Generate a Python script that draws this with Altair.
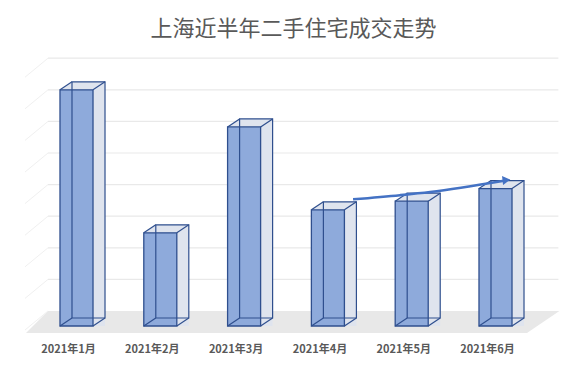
import pandas as pd
import altair as alt

# ---- data ----
months = ["2021年1月", "2021年2月", "2021年3月", "2021年4月", "2021年5月", "2021年6月"]
volumes = [29900, 11800, 25200, 14700, 15800, 17400]
grid_values = [4000, 8000, 12000, 16000, 20000, 24000, 28000, 32000]
wall_values = [0, 4000, 8000, 12000, 16000, 20000, 24000, 28000, 32000]
arrow_x = [3.30, 3.86, 4.22, 5.10]
arrow_y = [16040, 16560, 16960, 18380]
arrow_head_x = [5.13]
arrow_head_y = [18480]
title_text = "上海近半年二手住宅成交走势"

# ---- layout / style ----
W, H = 502.8, 252.8
X_DOMAIN = [-0.5, 5.5]
Y_DOMAIN = [0, 32000]
HALF = 0.197
BDX, BDY = 12, -8          # bar depth offset (px)
WALL_DY = -15              # back wall offset (px)
WALL_L, WALL_R = 13.4, 21  # wall left start (px from left), right overshoot (px)
FRONT = "#8eaadb"
SIDE = "#dfe4ee"
EDGE = "#2f4f8e"
FLOOR = "#e8e8e8"
GRID = "#e9e9e9"
ARROW = "#4472c4"
TEXT = "#595959"
FONT = "Noto Sans CJK SC"

sx = W / (X_DOMAIN[1] - X_DOMAIN[0])
sy = H / (Y_DOMAIN[1] - Y_DOMAIN[0])


def px_x(px):
    return X_DOMAIN[0] + px / sx


def px_y(py):
    return py / sy


xs = alt.Scale(domain=X_DOMAIN, nice=False, zero=False)
ys = alt.Scale(domain=Y_DOMAIN, nice=False, zero=False)

bars = pd.DataFrame({
    "month": months,
    "idx": list(range(len(months))),
    "value": volumes,
})
bars["x1"] = bars["idx"] - HALF
bars["x2"] = bars["idx"] + HALF
bars["zero"] = 0

corners = []
for _, r in bars.iterrows():
    for cx, cy in (("x1", "value"), ("x2", "value"), ("x2", "zero"), ("x1", "zero")):
        corners.append({"cx": r[cx], "cy": r[cy]})
corners = pd.DataFrame(corners)

# floor parallelogram (as a vertical area)
floor_back = px_y(-WALL_DY)
floor_front = px_y(-7)
floor = pd.DataFrame({
    "x": [px_x(WALL_L - 22), px_x(WALL_L), px_x(W - 10.4), px_x(W + WALL_R + 1)],
    "top": [floor_front, floor_back, floor_back, floor_back],
    "bot": [floor_front, floor_front, floor_front, floor_back],
})

grid = pd.DataFrame({"v": grid_values, "a": X_DOMAIN[0], "b": X_DOMAIN[1]})
wall = pd.DataFrame({"v": wall_values, "a": X_DOMAIN[0]})

floor_layer = alt.Chart(floor).mark_area(color=FLOOR, orient="vertical").encode(
    x=alt.X("x:Q", scale=xs, axis=None),
    y=alt.Y("top:Q", scale=ys, axis=None),
    y2="bot:Q",
)

grid_layer = alt.Chart(grid).mark_rule(
    color=GRID, strokeWidth=1.2, xOffset=WALL_L, x2Offset=WALL_R,
    yOffset=WALL_DY, y2Offset=WALL_DY,
).encode(
    x=alt.X("a:Q", scale=xs, axis=None), x2="b:Q",
    y=alt.Y("v:Q", scale=ys, axis=None), y2="v:Q",
)

side_wall = alt.Chart(wall).mark_rule(
    color="#f0f0f0", strokeWidth=1, xOffset=WALL_L, x2Offset=WALL_L - 23,
    yOffset=WALL_DY, y2Offset=WALL_DY + 19,
).encode(
    x=alt.X("a:Q", scale=xs, axis=None), x2="a:Q",
    y=alt.Y("v:Q", scale=ys, axis=None), y2="v:Q",
)

base = alt.Chart(bars)

shadow_back = base.mark_rect(
    color=SIDE, xOffset=BDX, x2Offset=BDX, yOffset=BDY, y2Offset=BDY
).encode(
    x=alt.X("x1:Q", scale=xs, axis=None), x2="x2:Q",
    y=alt.Y("value:Q", scale=ys, axis=None), y2="zero:Q",
)

shadow_side = base.mark_rect(color=SIDE, x2Offset=BDX, yOffset=BDY).encode(
    x=alt.X("x2:Q", scale=xs, axis=None), x2="x2:Q",
    y=alt.Y("value:Q", scale=ys, axis=None), y2="zero:Q",
)

top_tri = base.mark_point(
    shape="M0,0L12,-8L12,0Z", size=4, filled=True, color=SIDE, opacity=1, strokeWidth=0
).encode(
    x=alt.X("x1:Q", scale=xs, axis=None),
    y=alt.Y("value:Q", scale=ys, axis=None),
)

front_fill = base.mark_rect(color=FRONT).encode(
    x=alt.X("x1:Q", scale=xs, axis=None), x2="x2:Q",
    y=alt.Y("value:Q", scale=ys, axis=None), y2="zero:Q",
)

back_edge = base.mark_rect(
    fill="white", fillOpacity=0, stroke=EDGE, strokeWidth=1.2,
    xOffset=BDX, x2Offset=BDX, yOffset=BDY, y2Offset=BDY,
).encode(
    x=alt.X("x1:Q", scale=xs, axis=None), x2="x2:Q",
    y=alt.Y("value:Q", scale=ys, axis=None), y2="zero:Q",
)

front_edge = base.mark_rect(
    fill="white", fillOpacity=0, stroke=EDGE, strokeWidth=1.3,
).encode(
    x=alt.X("x1:Q", scale=xs, axis=None), x2="x2:Q",
    y=alt.Y("value:Q", scale=ys, axis=None), y2="zero:Q",
)

diagonals = alt.Chart(corners).mark_rule(
    color=EDGE, strokeWidth=1.2, x2Offset=BDX, y2Offset=BDY
).encode(
    x=alt.X("cx:Q", scale=xs, axis=None), x2="cx:Q",
    y=alt.Y("cy:Q", scale=ys, axis=None), y2="cy:Q",
)

month_labels = base.mark_text(
    font=FONT, fontSize=11, fontWeight="bold", color=TEXT,
    align="center", baseline="middle", dx=-8, dy=24,
).encode(
    x=alt.X("idx:Q", scale=xs, axis=None),
    y=alt.Y("zero:Q", scale=ys, axis=None),
    text="month:N",
)

arrow_df = pd.DataFrame({"x": arrow_x, "y": arrow_y, "o": list(range(len(arrow_x)))})
arrow_line = alt.Chart(arrow_df).mark_line(
    color=ARROW, strokeWidth=2.6, interpolate="monotone"
).encode(
    x=alt.X("x:Q", scale=xs, axis=None),
    y=alt.Y("y:Q", scale=ys, axis=None),
    order="o:Q",
)

head_df = pd.DataFrame({"x": arrow_head_x, "y": arrow_head_y})
arrow_head = alt.Chart(head_df).mark_point(
    shape="triangle-right", size=80, filled=True, color=ARROW, opacity=1, angle=353
).encode(
    x=alt.X("x:Q", scale=xs, axis=None),
    y=alt.Y("y:Q", scale=ys, axis=None),
)

title_df = pd.DataFrame({"t": [title_text]})
title_layer = alt.Chart(title_df).mark_text(
    font=FONT, fontSize=22, color=TEXT, align="center", baseline="middle"
).encode(
    x=alt.value(258.9), y=alt.value(-44.2), text="t:N",
)

chart = alt.layer(
    floor_layer, side_wall, grid_layer,
    shadow_back, shadow_side, top_tri,
    front_fill, back_edge, front_edge, diagonals,
    month_labels, arrow_line, arrow_head, title_layer,
).properties(
    width=W, height=H,
    padding={"left": 26.6, "top": 65.2, "right": 41.6, "bottom": 32},
    autosize=alt.AutoSizeParams(type="none"),
    background="white",
).configure_view(strokeWidth=0)

chart.save("out.html", embed_options={"renderer": "svg", "actions": False})
